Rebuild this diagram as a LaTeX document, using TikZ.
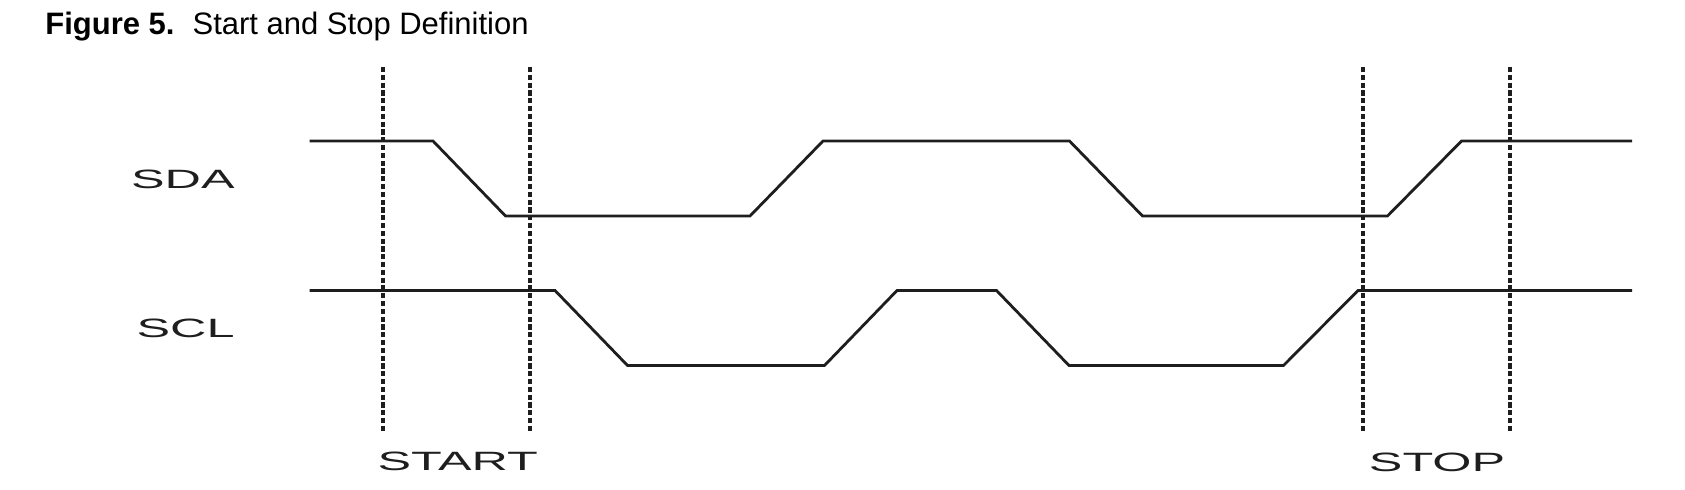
\documentclass[tikz,border=0pt]{standalone}
\usepackage{fontspec}
\setmainfont{Liberation Sans}
\usepackage{graphicx}
\usepackage{xcolor}
\usepackage{tikz}
\definecolor{inkblack}{RGB}{30,30,30}

% wide, stretched capitals for the signal and condition labels
\newcommand{\widecaps}[1]{\scalebox{1.9}[1]{#1}}

\begin{document}
\begin{tikzpicture}[
        x=0.5pt, y=-0.5pt,
        wave/.style={line width=1.4pt, color=inkblack, line join=miter},
        guide/.style={line width=1.9pt, color=inkblack, dash pattern=on 2.6pt off 1.3pt},
        siglabel/.style={inner sep=0pt, font=\fontsize{13.25}{15}\selectfont, text=inkblack}
      ]
      \useasboundingbox (0,0) rectangle (1685,490);

      \node[anchor=base west, inner sep=0pt, font=\fontsize{15.5}{18}\selectfont] (title) at (45,35)
        {\textbf{Figure 5.}\hspace{9pt}Start and Stop Definition};

      % guides for the two conditions
      \foreach \gx in {382.6, 529.8, 1362.6, 1509.9}
        \draw[guide] (\gx,67) -- (\gx,433);

      % SDA
      \draw[wave] (309.5,141) -- (433,141) -- (505.5,216) -- (750,216) -- (823,141)
        -- (1069.5,141) -- (1142.5,216) -- (1387.5,216) -- (1461.5,141) -- (1632,141);
      % SCL
      \draw[wave] (309.5,290.5) -- (555,290.5) -- (627.5,365.5) -- (824.5,365.5) -- (897,290.5)
        -- (996.5,290.5) -- (1069,365.5) -- (1283.5,365.5) -- (1358,290.5) -- (1632,290.5);

      \node[siglabel, anchor=east] (sda) at (235,179.7) {\widecaps{SDA}};
      \node[siglabel, anchor=east] (scl) at (235,328.8) {\widecaps{SCL}};
      \node[siglabel] (start) at (457.7,461.7) {\widecaps{START}};
      \node[siglabel] (stop)  at (1437,462)    {\widecaps{STOP}};
    \end{tikzpicture}
\end{document}
